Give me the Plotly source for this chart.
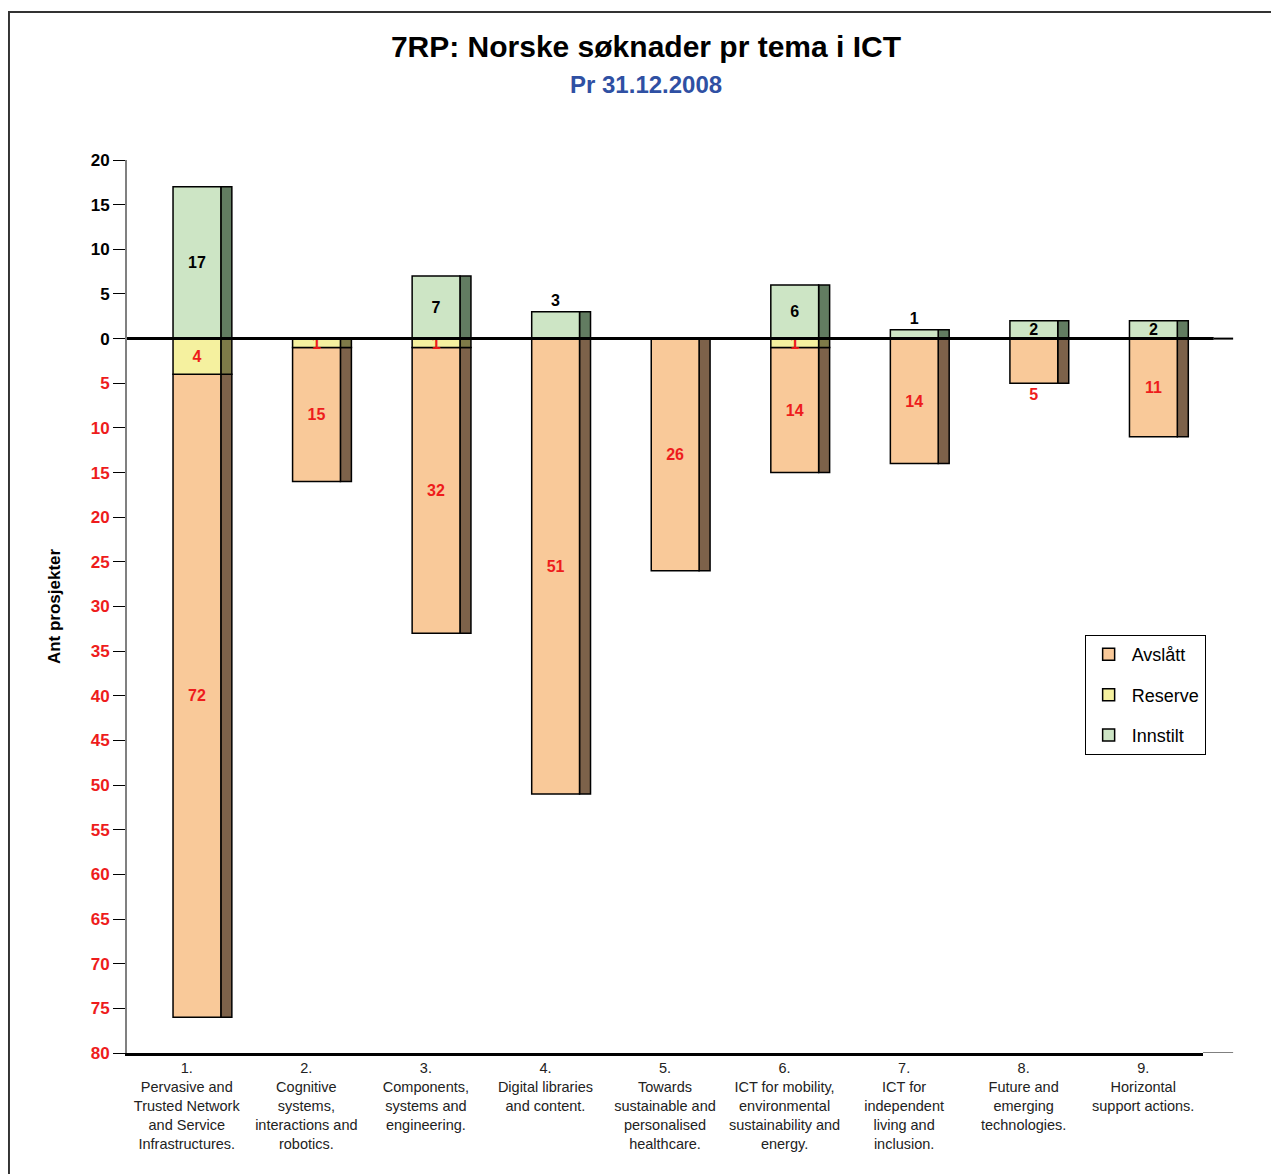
import plotly.graph_objects as go

# Data
categories = [
    "1.<br>Pervasive and<br>Trusted Network<br>and Service<br>Infrastructures.",
    "2.<br>Cognitive<br>systems,<br>interactions and<br>robotics.",
    "3.<br>Components,<br>systems and<br>engineering.",
    "4.<br>Digital libraries<br>and content.",
    "5.<br>Towards<br>sustainable and<br>personalised<br>healthcare.",
    "6.<br>ICT for mobility,<br>environmental<br>sustainability and<br>energy.",
    "7.<br>ICT for<br>independent<br>living and<br>inclusion.",
    "8.<br>Future and<br>emerging<br>technologies.",
    "9.<br>Horizontal<br>support actions.",
]
innstilt = [17, 0, 7, 3, 0, 6, 1, 2, 2]
reserve = [4, 1, 1, 0, 0, 1, 0, 0, 0]
avslatt = [72, 15, 32, 51, 26, 14, 14, 5, 11]

y_ticks = list(range(20, -85, -5))

FONT = "Liberation Sans, Arial, sans-serif"
RED = "#EE1C1C"

# front face and right-hand "3D" side of each bar (category units)
FRONT_OFF, FRONT_W = -0.115, 0.40
SIDE_OFF, SIDE_W = 0.285, 0.092

def nz(vals, sign=1):
    return [sign * v if v else None for v in vals]

def labels(vals):
    return [str(v) if v else "" for v in vals]

series = [
    # name, values (signed), base, front colour, side colour, text colour, text positions
    ("Avslått", nz(avslatt, -1), [-r for r in reserve], "#F9C999", "#7D624A", RED,
     ["inside"] * 7 + ["outside", "inside"], labels(avslatt)),
    ("Reserve", nz(reserve, -1), [0] * len(reserve), "#F5F19F", "#7E7A48", RED,
     ["inside"] * 9, labels(reserve)),
    ("Innstilt", nz(innstilt), [0] * len(innstilt), "#CDE5C5", "#627C61", "black",
     ["inside", "inside", "inside", "outside", "inside", "inside", "outside", "inside", "inside"],
     labels(innstilt)),
]

fig = go.Figure()

for name, vals, base, front, side, tcol, tpos, txt in series:
    fig.add_trace(go.Bar(
        x=categories, y=vals, base=base, name=name,
        offset=SIDE_OFF, width=SIDE_W, marker_color=side,
        marker_line=dict(color="black", width=1.5),
        showlegend=False, hoverinfo="skip",
    ))
    fig.add_trace(go.Bar(
        x=categories, y=vals, base=base, name=name,
        offset=FRONT_OFF, width=FRONT_W, marker_color=front,
        marker_line=dict(color="black", width=1.5),
        text=txt, textposition=tpos, insidetextanchor="middle",
        textangle=0, constraintext="none", cliponaxis=False,
        textfont=dict(family=FONT, size=16, color=tcol, weight="bold"),
        outsidetextfont=dict(family=FONT, size=16, color=tcol, weight="bold"),
        legendgroup=name,
    ))

tick_text = [
    str(abs(v)) if v >= 0 else f"<span style='color:{RED}'>{abs(v)}</span>"
    for v in y_ticks
]

fig.update_yaxes(
    range=[-80, 20], tickvals=y_ticks, ticktext=tick_text,
    ticks="outside", ticklen=12, tickcolor="black", tickwidth=1,
    showline=True, linecolor="#808080", linewidth=2,
    showgrid=False, zeroline=False,
    tickfont=dict(family=FONT, size=17, color="black", weight="bold"),
    title=dict(text="Ant prosjekter", standoff=26,
               font=dict(family=FONT, size=17, color="black", weight="bold")),
)
fig.update_xaxes(
    range=[-0.5, 8.5], showgrid=False, ticks="",
    showline=True, linecolor="black", linewidth=3,
    tickfont=dict(family=FONT, size=14.5, color="#222222"),
)

# zero line drawn above the bars and the thin extension of the axes
fig.add_shape(type="line", xref="paper", yref="y", x0=0, x1=1.01, y0=0, y1=0,
              line=dict(color="black", width=3), layer="above")
fig.add_shape(type="line", xref="paper", yref="y", x0=1.01, x1=1.028, y0=0, y1=0,
              line=dict(color="black", width=2), layer="above")
fig.add_shape(type="line", xref="paper", yref="y", x0=1.0, x1=1.028, y0=-80, y1=-80,
              line=dict(color="black", width=1), layer="above")

# outer frame
fig.add_shape(type="rect", xref="paper", yref="paper",
              x0=-0.1097, x1=1.08, y0=-0.2, y1=1.1657,
              line=dict(color="#333333", width=2), layer="below")

fig.add_annotation(
    text="Pr 31.12.2008", xref="paper", yref="paper", x=0.482, y=1.085,
    showarrow=False, yanchor="middle",
    font=dict(family=FONT, size=24, color="#2F50A3", weight="bold"),
)

fig.update_layout(
    width=1279, height=1174,
    margin=dict(l=119, r=84, t=152, b=129),
    barmode="overlay",
    plot_bgcolor="white", paper_bgcolor="white",
    title=dict(text="7RP: Norske søknader pr tema i ICT", x=0.4988, xanchor="center",
               xref="container", yref="container", y=0.9668, yanchor="middle",
               font=dict(family=FONT, size=30, color="black", weight="bold")),
    legend=dict(x=0.89, y=0.468, xanchor="left", yanchor="top",
                bordercolor="black", borderwidth=1, bgcolor="white",
                traceorder="grouped", tracegroupgap=14, itemwidth=36,
                font=dict(family=FONT, size=18, color="black")),
    showlegend=True,
)

fig.write_html("out.html")
